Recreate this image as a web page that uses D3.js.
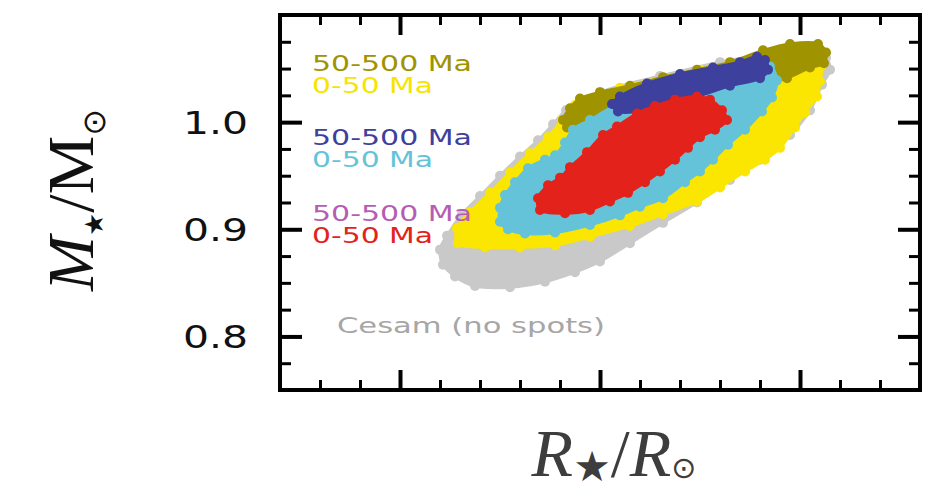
<!DOCTYPE html>
<html>
<head>
<meta charset="utf-8">
<script src="https://cdn.jsdelivr.net/npm/d3@7"></script>
<style>
    body { margin: 0; background: #fff; }
    svg { display: block; }
</style>
</head>
<body>
<svg width="948" height="491"></svg>
<script>
// envelopes of the model clouds, [R, M] in solar units
var grayCloud = [[0.920,0.881],[0.9235,0.894],[0.931,0.914],[0.940,0.931],[0.950,0.950],[0.960,0.968],[0.969,0.983],[0.9765,0.998],[0.983,1.011],[1.000,1.028],[1.030,1.043],[1.060,1.056],[1.090,1.065],[1.1075,1.066],[1.113,1.060],[1.115,1.049],[1.111,1.035],[1.105,1.011],[1.095,0.988],[1.080,0.965],[1.065,0.946],[1.0485,0.925],[1.0315,0.906],[1.015,0.887],[1.000,0.870],[0.9875,0.860],[0.9725,0.851],[0.955,0.846],[0.9375,0.847],[0.9275,0.856],[0.9215,0.867]];
var yellowCloud = [[0.929,0.887],[0.9285,0.901],[0.935,0.916],[0.945,0.934],[0.955,0.953],[0.965,0.971],[0.974,0.986],[0.981,1.002],[0.9875,1.016],[1.010,1.032],[1.050,1.049],[1.090,1.065],[1.1075,1.065],[1.111,1.053],[1.110,1.038],[1.1085,1.024],[1.1025,1.009],[1.0975,0.995],[1.090,0.976],[1.0825,0.965],[1.0725,0.954],[1.060,0.939],[1.0485,0.926],[1.0315,0.914],[1.015,0.903],[0.995,0.893],[0.9775,0.885],[0.960,0.883],[0.9425,0.883]];
var oliveCloud = [[0.9815,1.002],[0.985,1.013],[0.990,1.022],[1.000,1.028],[1.015,1.034],[1.0315,1.042],[1.0485,1.049],[1.065,1.056],[1.0815,1.067],[1.095,1.073],[1.109,1.073],[1.113,1.065],[1.112,1.055],[1.105,1.051],[1.0935,1.041],[1.085,1.038],[1.070,1.028],[1.050,1.019],[1.025,1.011],[1.0075,1.010],[0.9985,1.002],[0.990,0.996],[0.9835,0.995]];
var blueCloud = [[0.950,0.907],[0.950,0.920],[0.9525,0.932],[0.9575,0.944],[0.964,0.957],[0.9725,0.965],[0.9775,0.969],[0.9825,0.981],[0.9865,0.993],[0.995,1.002],[1.0085,1.016],[1.025,1.025],[1.050,1.035],[1.070,1.044],[1.085,1.052],[1.0885,1.039],[1.086,1.023],[1.081,1.010],[1.0725,0.993],[1.064,0.979],[1.0565,0.965],[1.050,0.954],[1.0425,0.944],[1.0315,0.929],[1.020,0.921],[1.010,0.913],[0.995,0.904],[0.9775,0.897],[0.9625,0.896],[0.954,0.900]];
var navyCloud = [[1.006,1.017],[1.010,1.024],[1.0235,1.036],[1.040,1.045],[1.0565,1.051],[1.070,1.056],[1.0785,1.061],[1.0825,1.058],[1.084,1.049],[1.080,1.041],[1.065,1.034],[1.0485,1.024],[1.0315,1.016],[1.0185,1.010],[1.009,1.010]];
var redCloud = [[0.970,0.918],[0.969,0.929],[0.974,0.941],[0.980,0.948],[0.985,0.958],[0.9935,0.972],[1.0015,0.988],[1.0085,0.996],[1.0185,1.008],[1.0275,1.015],[1.0375,1.021],[1.0485,1.024],[1.055,1.021],[1.061,1.011],[1.0635,1.002],[1.0575,0.993],[1.050,0.986],[1.044,0.976],[1.0375,0.965],[1.030,0.954],[1.0225,0.944],[1.014,0.934],[1.005,0.926],[0.995,0.918],[0.9825,0.915]];

var clouds = [
    { pts: grayCloud, color: '#c9c9c9' },
    { pts: yellowCloud, color: '#fae600' },
    { pts: oliveCloud, color: '#a09300' },
    { pts: blueCloud, color: '#65c3d9' },
    { pts: navyCloud, color: '#3d409c' },
    { pts: redCloud, color: '#e3231b' }
];

var legendLabels = ['50-500 Ma', '0-50 Ma', '50-500 Ma', '0-50 Ma', '50-500 Ma', '0-50 Ma'];
var legendColors = ['#a09300', '#f7e400', '#3d409c', '#65c3d9', '#b55db5', '#e3231b'];
var legendBase = [71, 93, 145, 167, 221, 243];

var xMajor = [0.9, 1.0, 1.1];
var xMinor = [0.86, 0.88, 0.92, 0.94, 0.96, 0.98, 1.02, 1.04, 1.06, 1.08, 1.12, 1.14];
var yMajor = [0.8, 0.9, 1.0];
var yMinor = [0.775, 0.825, 0.85, 0.875, 0.925, 0.95, 0.975, 1.025, 1.05, 1.075];
var yTickLabels = ['0.8', '0.9', '1.0'];

var svg = d3.select('svg');

var x = d3.scaleLinear().domain([0.84, 1.16]).range([280, 920]);
var y = d3.scaleLinear().domain([0.75, 1.10]).range([390, 15]);

var line = d3.line()
    .x(d => x(d[0]))
    .y(d => y(d[1]))
    .curve(d3.curveCatmullRomClosed);

clouds.forEach(function(c) {
    var g = svg.append('g').attr('fill', c.color);
    g.append('path')
        .attr('d', line(c.pts))
        .attr('stroke', c.color)
        .attr('stroke-width', 3)
        .attr('stroke-linejoin', 'round');
    g.selectAll('circle')
        .data(c.pts)
        .enter().append('circle')
        .attr('cx', d => x(d[0]))
        .attr('cy', d => y(d[1]))
        .attr('r', 5);
});

// ticks, all pointing inwards
function ticks(axis, tr, size, width) {
    var g = svg.append('g').attr('transform', tr).call(axis.tickSize(-size).tickFormat(''));
    g.select('.domain').remove();
    g.selectAll('line').attr('stroke', '#000').attr('stroke-width', width);
}
ticks(d3.axisBottom(x).tickValues(xMajor), 'translate(0,390)', 20, 4);
ticks(d3.axisBottom(x).tickValues(xMinor), 'translate(0,390)', 10, 3);
ticks(d3.axisTop(x).tickValues(xMajor), 'translate(0,15)', 20, 4);
ticks(d3.axisTop(x).tickValues(xMinor), 'translate(0,15)', 10, 3);
ticks(d3.axisLeft(y).tickValues(yMajor), 'translate(280,0)', 22, 4);
ticks(d3.axisLeft(y).tickValues(yMinor), 'translate(280,0)', 11, 3);
ticks(d3.axisRight(y).tickValues(yMajor), 'translate(920,0)', 22, 4);
ticks(d3.axisRight(y).tickValues(yMinor), 'translate(920,0)', 11, 3);

svg.append('rect')
    .attr('x', 280).attr('y', 15)
    .attr('width', 640).attr('height', 375)
    .attr('fill', 'none')
    .attr('stroke', '#000')
    .attr('stroke-width', 4);

svg.selectAll('.ylab')
    .data(yMajor)
    .enter().append('text')
    .attr('class', 'ylab')
    .attr('x', 183)
    .attr('y', d => y(d) + 12)
    .attr('textLength', 65)
    .attr('lengthAdjust', 'spacingAndGlyphs')
    .attr('font-family', 'DejaVu Sans')
    .attr('font-size', 32)
    .attr('fill', '#111')
    .text((d, i) => yTickLabels[i]);

svg.selectAll('.leg')
    .data(legendLabels)
    .enter().append('text')
    .attr('class', 'leg')
    .attr('x', 312)
    .attr('y', (d, i) => legendBase[i])
    .attr('textLength', (d, i) => i % 2 === 0 ? 160 : 121)
    .attr('lengthAdjust', 'spacingAndGlyphs')
    .attr('font-family', 'DejaVu Sans')
    .attr('font-size', 21)
    .attr('fill', (d, i) => legendColors[i])
    .text(d => d);

svg.append('text')
    .attr('x', 337)
    .attr('y', 333)
    .attr('textLength', 268)
    .attr('lengthAdjust', 'spacingAndGlyphs')
    .attr('font-family', 'DejaVu Sans')
    .attr('font-size', 22)
    .attr('fill', '#a6a6a6')
    .text('Cesam (no spots)');

// axis titles
var yt = svg.append('text')
    .attr('transform', 'translate(93,200) rotate(-90)')
    .attr('text-anchor', 'middle')
    .attr('font-family', 'Liberation Serif')
    .attr('font-size', 66)
    .attr('fill', '#111');
yt.append('tspan').attr('font-style', 'italic').text('M');
yt.append('tspan').attr('font-size', 26).attr('font-family', 'DejaVu Sans').attr('dy', 10).text('★');
yt.append('tspan').attr('dy', -10).text('/M');
yt.append('tspan').attr('font-size', 32).attr('font-family', 'DejaVu Sans').attr('dy', 12).text('⊙');

var xt = svg.append('text')
    .attr('x', 614)
    .attr('y', 476)
    .attr('text-anchor', 'middle')
    .attr('font-family', 'Liberation Serif')
    .attr('font-size', 68)
    .attr('fill', '#3d3d3d');
xt.append('tspan').attr('font-style', 'italic').text('R');
xt.append('tspan').attr('font-size', 42).attr('font-family', 'DejaVu Sans').attr('dy', 5).text('★');
xt.append('tspan').attr('dy', -5).text('/');
xt.append('tspan').attr('font-style', 'italic').text('R');
xt.append('tspan').attr('font-size', 30).attr('font-family', 'DejaVu Sans').attr('dy', 2).text('⊙');
</script>
</body>
</html>
